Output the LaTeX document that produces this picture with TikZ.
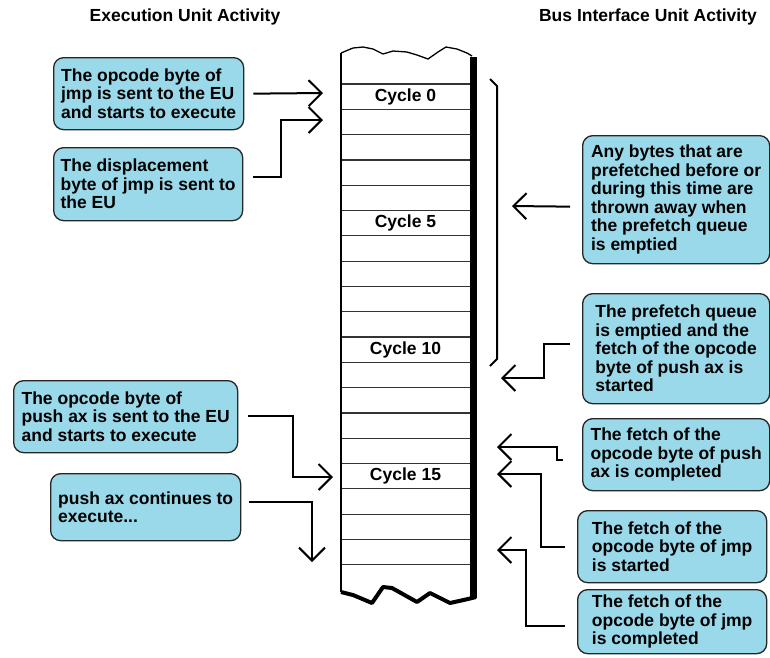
\documentclass[tikz,border=0pt]{standalone}
\usepackage{fontspec}
\setmainfont{Liberation Sans}
\usetikzlibrary{arrows.meta,calc}
\definecolor{boxcyan}{RGB}{153,217,234}
\begin{document}
\begin{tikzpicture}[x=1pt,y=-1pt,
  txt/.style={font=\fontsize{17.5}{18.5}\selectfont\bfseries},
  infobox/.style={txt, draw=black!85, line width=1.3pt, fill=boxcyan, rounded corners=10pt, align=left, inner sep=0pt, anchor=north west},
  arr/.style={line width=2pt, -{Straight Barb[length=13pt,width=26pt]}},
  rowline/.style={line width=1.2pt, black!80},
]
\useasboundingbox (0,0) rectangle (770,657);

% headers
\node[txt] (h1) at (185,17) {Execution Unit Activity};
\node[txt] (h2) at (648,17) {Bus Interface Unit Activity};

% column
\foreach \k in {0,...,19} \draw[rowline] (341,{84+25.3*\k}) -- (470,{84+25.3*\k});
\draw[line width=2pt, line join=round] (341,592) -- (341,53);
\draw[line width=1.3pt, line join=round] (341,53) -- (353,48) -- (363,47) -- (373,49) -- (383,54) -- (393,51) -- (407,52) -- (417,55) -- (428,59) -- (438,52) -- (446,47) -- (457,49) -- (467,53) -- (472,56);
\fill (470,57) rectangle (477,598);
\draw[line width=4pt, line join=round] (341,592) -- (353,595) -- (372,603) -- (383,587) -- (392,588) -- (417,602) -- (430,593) -- (450,603) -- (468,599) -- (476,597);

\node[txt] (c0) at (405.5,96.6) {Cycle 0};
\node[txt] (c5) at (405.5,223.2) {Cycle 5};
\node[txt] (c10) at (405.5,349.7) {Cycle 10};
\node[txt] (c15) at (405.5,476.2) {Cycle 15};

% bracket
\draw[line width=2pt] (490,79) -- (497,86) -- (497,359) -- (490,366);

% boxes
\node[infobox, minimum width=190pt, minimum height=72pt] (b1) at (53,57) {The opcode byte of\\jmp is sent to the EU\\and starts to execute};
\node[infobox, minimum width=189pt, minimum height=73pt] (b2) at (53,147) {The displacement\\byte of jmp is sent to\\the EU};
\node[infobox, minimum width=224pt, minimum height=72pt] (b3) at (13,380) {The opcode byte of\\push ax is sent to the EU\\and starts to execute};
\node[infobox, minimum width=190pt, minimum height=67pt] (b4) at (50,473) {push ax continues to\\execute...};
\node[infobox, minimum width=187pt, minimum height=128pt] (b5) at (582,135) {Any bytes that are\\prefetched before or\\during this time are\\thrown away when\\the prefetch queue\\is emptied};
\node[infobox, minimum width=187pt, minimum height=110pt] (b6) at (582,293) {The prefetch queue\\is emptied and the\\fetch of the opcode\\byte of push ax is\\started};
\node[infobox, minimum width=187pt, minimum height=72pt] (b7) at (582,418) {The fetch of the\\opcode byte of push\\ax is completed};
\node[infobox, minimum width=189pt, minimum height=72pt] (b8) at (577,510) {The fetch of the\\opcode byte of jmp\\is started};
\node[infobox, minimum width=189pt, minimum height=64pt] (b9) at (577,589) {The fetch of the\\opcode byte of jmp\\is completed};

% arrow tips
\coordinate (t1) at (323,93);
\coordinate (t2) at (323,120);
\coordinate (t3) at (333,477);
\coordinate (t4) at (312,562);
\coordinate (t5) at (512,206);
\coordinate (t6) at (501,378);
\coordinate (t7) at (497,447);
\coordinate (t8) at (497,474);
\coordinate (t9) at (497,550);

% connectors
\draw[arr] ([xshift=9pt]b1.east) -- (t1);
\draw[arr] ([xshift=10pt,yshift=7.5pt]b2.east) -| ([xshift=-42pt]t2) -- (t2);
\draw[arr] ([xshift=10pt,yshift=1pt]b3.east) -| ([xshift=-40pt]t3) -- (t3);
\draw[arr] ([xshift=8pt,yshift=5.5pt]b4.east) -| (t4);
\draw[arr] ([xshift=-12pt,yshift=-7pt]b5.west) -- (t5);
\draw[arr] ([xshift=-12pt,yshift=5pt]b6.west) -| ([xshift=43pt]t6) -- (t6);
\draw[arr] ([xshift=-19pt,yshift=-5pt]b7.west) -| ([xshift=60pt]t7) -- (t7);
\draw[arr] ([xshift=-12pt]b8.west) -| ([xshift=44pt]t8) -- (t8);
\draw[arr] ([xshift=-12pt,yshift=-4pt]b9.west) -| ([xshift=29pt]t9) -- (t9);
\end{tikzpicture}
\end{document}
